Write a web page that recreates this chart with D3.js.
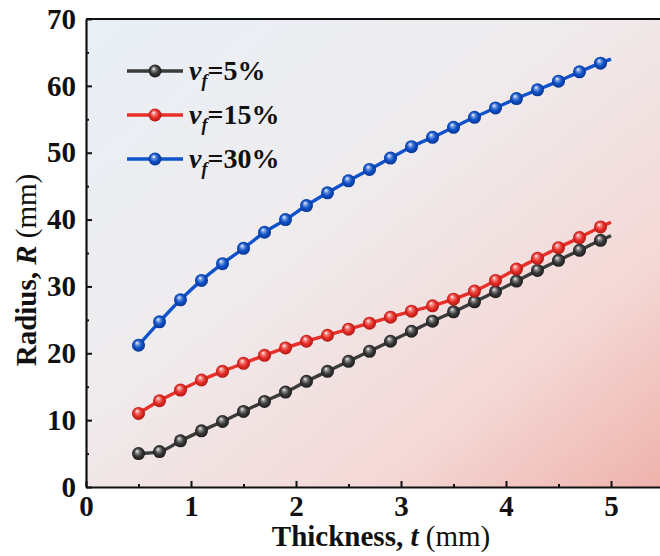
<!DOCTYPE html>
<html>
<head>
<meta charset="utf-8">
<script src="https://cdn.jsdelivr.net/npm/d3@7"></script>
<style>
  body { margin: 0; background: #fff; }
  #chart { width: 660px; height: 556px; }
  text { font-family: "Liberation Serif", "Times New Roman", serif; }
</style>
</head>
<body>
<div id="chart"></div>
<script>
// thickness values (mm); markers sit on every point but the last one (line runs on to 5)
var thickness = [0.5, 0.7, 0.9, 1.1, 1.3, 1.5, 1.7, 1.9, 2.1, 2.3, 2.5, 2.7, 2.9,
  3.1, 3.3, 3.5, 3.7, 3.9, 4.1, 4.3, 4.5, 4.7, 4.9, 5.0];

var radius5 = [5.0, 5.3, 6.9, 8.4, 9.8, 11.3, 12.8, 14.2, 15.8, 17.3, 18.8, 20.3, 21.8,
  23.3, 24.8, 26.2, 27.7, 29.2, 30.8, 32.4, 33.9, 35.4, 36.9, 37.6];
var radius15 = [11.0, 12.9, 14.5, 16.0, 17.3, 18.5, 19.7, 20.8, 21.8, 22.7, 23.6, 24.5, 25.4,
  26.3, 27.1, 28.1, 29.3, 30.9, 32.6, 34.2, 35.8, 37.3, 38.9, 39.6];
var radius30 = [21.2, 24.7, 28.0, 30.9, 33.4, 35.7, 38.1, 40.0, 42.1, 44.0, 45.8, 47.5, 49.2,
  50.9, 52.3, 53.8, 55.3, 56.7, 58.1, 59.4, 60.7, 62.1, 63.4, 64.0];

var seriesNames = ["5%", "15%", "30%"];
var xTicks = [0, 1, 2, 3, 4, 5];
var xMinorTicks = [0.5, 1.5, 2.5, 3.5, 4.5];
var yTicks = [0, 10, 20, 30, 40, 50, 60, 70];
var yMinorTicks = [5, 15, 25, 35, 45, 55, 65];

var colors = ["#3b3b3b", "#e8302a", "#0f52c9"];
var darks = ["#151515", "#a8120e", "#06308a"];

var width = 660, height = 556;
var pLeft = 86, pTop = 19, pBottom = 487, pRight = 663.5;

var svg = d3.select("#chart").append("svg")
  .attr("width", width)
  .attr("height", height);

var defs = svg.append("defs");

var bg = defs.append("linearGradient")
  .attr("id", "bg")
  .attr("x1", "0%").attr("y1", "0%")
  .attr("x2", "100%").attr("y2", "100%");
bg.append("stop").attr("offset", "0%").attr("stop-color", "#e8eff6");
bg.append("stop").attr("offset", "40%").attr("stop-color", "#efecee");
bg.append("stop").attr("offset", "75%").attr("stop-color", "#f4d8d6");
bg.append("stop").attr("offset", "100%").attr("stop-color", "#efb2ab");

colors.forEach(function (c, i) {
  var g = defs.append("radialGradient")
    .attr("id", "ball" + i)
    .attr("cx", "50%").attr("cy", "50%").attr("r", "55%")
    .attr("fx", "38%").attr("fy", "30%");
  g.append("stop").attr("offset", "0%").attr("stop-color", "#ffffff");
  g.append("stop").attr("offset", "22%").attr("stop-color", d3.interpolateRgb("#ffffff", c)(0.55));
  g.append("stop").attr("offset", "55%").attr("stop-color", c);
  g.append("stop").attr("offset", "100%").attr("stop-color", darks[i]);
});

var x = d3.scaleLinear().domain([0, 5.5]).range([pLeft, pRight]);
var y = d3.scaleLinear().domain([0, 70]).range([pBottom, pTop]);

// plot background
svg.append("rect")
  .attr("x", pLeft).attr("y", pTop)
  .attr("width", pRight - pLeft).attr("height", pBottom - pTop)
  .attr("fill", "url(#bg)");

// minor ticks
svg.append("g")
  .attr("transform", "translate(" + pLeft + ",0)")
  .call(d3.axisLeft(y).tickValues(yMinorTicks).tickSize(-3).tickFormat(""))
  .call(function (g) { g.select(".domain").remove(); })
  .selectAll("line").attr("stroke", "#111").attr("stroke-width", 2);

svg.append("g")
  .attr("transform", "translate(0," + pBottom + ")")
  .call(d3.axisBottom(x).tickValues(xMinorTicks).tickSize(-3).tickFormat(""))
  .call(function (g) { g.select(".domain").remove(); })
  .selectAll("line").attr("stroke", "#111").attr("stroke-width", 2);

// major axes
var yAxis = svg.append("g")
  .attr("transform", "translate(" + pLeft + ",0)")
  .call(d3.axisLeft(y).tickValues(yTicks).tickFormat(d3.format("d"))
    .tickSize(-6).tickSizeOuter(0).tickPadding(10));

var xAxis = svg.append("g")
  .attr("transform", "translate(0," + pBottom + ")")
  .call(d3.axisBottom(x).tickValues(xTicks).tickFormat(d3.format("d"))
    .tickSize(-6).tickSizeOuter(0).tickPadding(6));

[yAxis, xAxis].forEach(function (a) {
  a.select(".domain").attr("stroke", "#111").attr("stroke-width", 2.2);
  a.selectAll(".tick line").attr("stroke", "#111").attr("stroke-width", 2);
  a.selectAll(".tick text")
    .attr("fill", "#111")
    .style("font-family", "'Liberation Serif', serif")
    .style("font-size", "29px")
    .style("font-weight", "bold");
});
xAxis.selectAll(".tick text").attr("dy", "0.8em");

// top frame line
svg.append("line")
  .attr("x1", pLeft).attr("x2", pRight)
  .attr("y1", pTop).attr("y2", pTop)
  .attr("stroke", "#111").attr("stroke-width", 2.2);

// axis titles
var xt = svg.append("text")
  .attr("x", 381).attr("y", 546)
  .attr("text-anchor", "middle")
  .attr("fill", "#111")
  .style("font-size", "29px")
  .style("font-weight", "bold");
xt.append("tspan").text("Thickness, ");
xt.append("tspan").style("font-style", "italic").text("t");
xt.append("tspan").style("font-weight", "normal").text(" (mm)");

var yt = svg.append("text")
  .attr("transform", "translate(36," + 270 + ") rotate(-90)")
  .attr("text-anchor", "middle")
  .attr("fill", "#111")
  .style("font-size", "29px")
  .style("font-weight", "bold");
yt.append("tspan").text("Radius, ");
yt.append("tspan").style("font-style", "italic").text("R");
yt.append("tspan").style("font-weight", "normal").text(" (mm)");

// series
var series = [radius5, radius15, radius30].map(function (vals, i) {
  return {
    name: seriesNames[i],
    idx: i,
    points: thickness.map(function (t, j) { return {t: t, r: vals[j]}; })
  };
});

var line = d3.line()
  .x(function (d) { return x(d.t); })
  .y(function (d) { return y(d.r); })
  .curve(d3.curveMonotoneX);

var sg = svg.append("g").selectAll("g")
  .data(series)
  .enter().append("g");

sg.append("path")
  .attr("d", function (d) { return line(d.points); })
  .attr("fill", "none")
  .attr("stroke", function (d) { return colors[d.idx]; })
  .attr("stroke-width", 3.4);

sg.selectAll("circle")
  .data(function (d) {
    return d.points.slice(0, -1).map(function (p) { return {p: p, idx: d.idx}; });
  })
  .enter().append("circle")
  .attr("cx", function (d) { return x(d.p.t); })
  .attr("cy", function (d) { return y(d.p.r); })
  .attr("r", 6.5)
  .attr("fill", function (d) { return "url(#ball" + d.idx + ")"; });

// legend
var legend = svg.append("g").selectAll("g")
  .data(series)
  .enter().append("g")
  .attr("transform", function (d, i) { return "translate(127," + (71 + i * 44) + ")"; });

legend.append("line")
  .attr("x1", 0).attr("x2", 56)
  .attr("stroke", function (d) { return colors[d.idx]; })
  .attr("stroke-width", 3.4);

legend.append("circle")
  .attr("cx", 28).attr("r", 6.5)
  .attr("fill", function (d) { return "url(#ball" + d.idx + ")"; });

var lt = legend.append("text")
  .attr("x", 62).attr("y", 9)
  .attr("fill", "#111")
  .style("font-size", "28px")
  .style("font-weight", "bold");
lt.append("tspan").style("font-style", "italic").text("v");
lt.append("tspan").style("font-style", "italic").style("font-size", "18px")
  .attr("dy", 7).text("f");
lt.append("tspan").attr("dy", -7).text(function (d) { return "=" + d.name; });
</script>
</body>
</html>
